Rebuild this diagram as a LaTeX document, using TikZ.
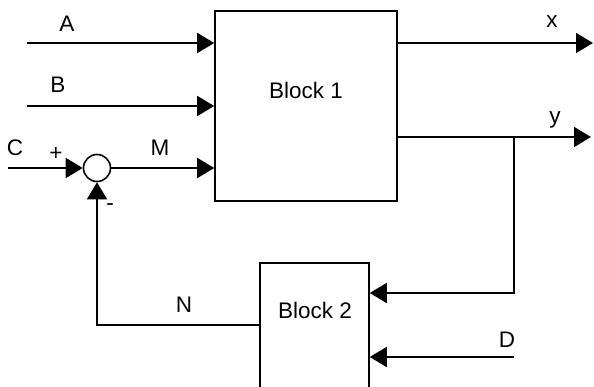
\documentclass[tikz,border=0pt]{standalone}
\usepackage{fontspec}
\setmainfont{Liberation Sans}
\usetikzlibrary{arrows.meta}
\begin{document}
\begin{tikzpicture}[x=1pt,y=-1pt,
  line width=1.6pt,
  conn/.style={-{Triangle[length=17pt,width=20pt]}},
  blockbox/.style={draw,rectangle,inner sep=0pt},
  lbl/.style={font=\fontsize{22.5}{26}\selectfont,inner sep=0pt},
  sumnode/.style={draw,circle,minimum size=27pt,inner sep=0pt}]
\useasboundingbox (0,0) rectangle (594,387);
% blocks
\node[blockbox,minimum width=182pt,minimum height=190pt] (b1) at (306,106) {};
\node[lbl] (b1t) at (306,90) {Block 1};
\node[blockbox,minimum width=109pt,minimum height=140pt] (b2) at (314.5,333) {};
\node[lbl] (b2t) at (315,310) {Block 2};
\node[sumnode] (sum) at (97,168) {};
% free ends
\coordinate (ain) at (27,43);
\coordinate (bin) at (27,106);
\coordinate (cin) at (8,168);
\coordinate (xout) at (593,43);
\coordinate (yout) at (591,137);
\coordinate (tap) at (514,137);
\coordinate (din) at (514,357);
% connectors
\draw[conn] (ain) -- (ain -| b1.west);
\draw[conn] (bin) -- (bin -| b1.west);
\draw[conn] (cin) -- (sum.west);
\draw[conn] (sum.east) -- (sum -| b1.west);
\draw[conn] (xout -| b1.east) -- (xout);
\draw[conn] (yout -| b1.east) -- (yout);
\draw[conn] (tap) -- (tap |- 0,293) -- (b2.east |- 0,293);
\draw[conn] (din) -- (din -| b2.east);
\draw[conn] (b2.west |- 0,325) -- (sum |- 0,325) -- (sum.south);
% labels
\node[lbl] (la) at (67,24) {A};
\node[lbl] (lb) at (58,85) {B};
\node[lbl] (lc) at (15,148) {C};
\node[lbl] (lplus) at (56,154) {+};
\node[lbl] (lminus) at (110,207) {-};
\node[lbl] (lm) at (160,148) {M};
\node[lbl] (lx) at (552,22) {x};
\node[lbl] (ly) at (555,120) {y};
\node[lbl] (ln) at (184,305) {N};
\node[lbl] (ld) at (507,340) {D};
\end{tikzpicture}
\end{document}
